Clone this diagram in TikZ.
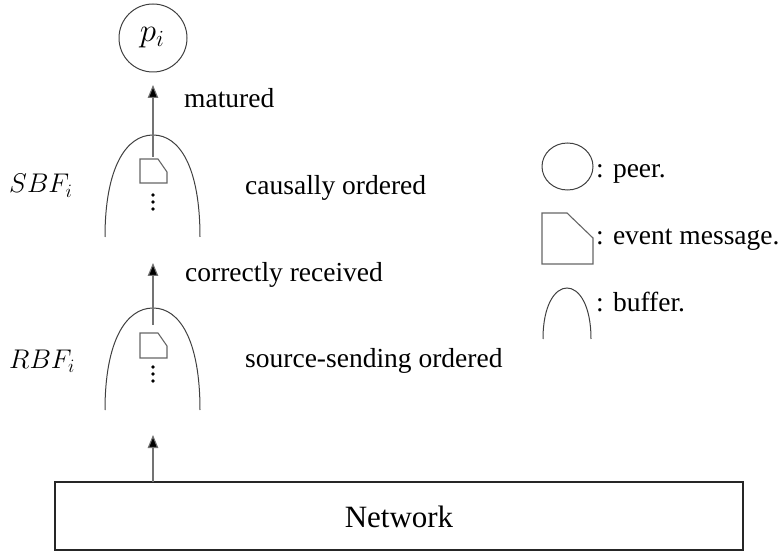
\documentclass[tikz,border=0pt]{standalone}
\usepackage{fix-cm}
\usepackage{fontspec}
\setmainfont{Liberation Serif}
\usetikzlibrary{arrows.meta,shapes.geometric}
\begin{document}
\begin{tikzpicture}[x=1pt,y=-1pt,
  txt/.style={font=\fontsize{27.5}{32}\selectfont, inner sep=0pt},
  mathlbl/.style={font=\fontsize{27}{31}\selectfont, inner sep=0pt},
  bufline/.style={draw=black!75, line width=1pt},
  msgshape/.style={draw=black!60, line width=1.1pt, line join=miter},
  flow/.style={draw=black!55, line width=1.1pt, -{Triangle[length=13pt,width=10.5pt,fill=black]}},
  dotmark/.style={circle, fill=black, inner sep=0pt, minimum size=3.6pt}
]
\useasboundingbox (0,0) rectangle (782,553);

% peer
\node[circle, draw=black!75, line width=1pt, minimum size=68pt, inner sep=0pt] (peer) at (153,38) {};
\node[font=\fontsize{33}{38}\selectfont, inner sep=0pt] (peerlbl) at (152,38) {$p_i$};

% send buffer
\coordinate (sbfL) at (105,237);
\coordinate (sbfT) at (153,135);
\coordinate (sbfR) at (200,237);
\draw[bufline] (sbfL) .. controls (105,168) and (126,135) .. (sbfT)
               .. controls (180,135) and (200,168) .. (sbfR);
\draw[msgshape] (140,159) -- (158,159) -- (167,172) -- (167,183) -- (140,183) -- cycle;
\node[dotmark] (sd1) at (153,195) {};
\node[dotmark] (sd2) at (153,202) {};
\node[dotmark] (sd3) at (153,209) {};

% receive buffer
\coordinate (rbfL) at (105,410);
\coordinate (rbfT) at (153,308);
\coordinate (rbfR) at (200,410);
\draw[bufline] (rbfL) .. controls (105,341) and (126,308) .. (rbfT)
               .. controls (180,308) and (200,341) .. (rbfR);
\draw[msgshape] (140,333) -- (158,333) -- (167,346) -- (167,358) -- (140,358) -- cycle;
\node[dotmark] (rd1) at (153,367) {};
\node[dotmark] (rd2) at (153,374) {};
\node[dotmark] (rd3) at (153,381) {};

% network
\node[draw=black!85, line width=1.6pt, minimum width=688pt, minimum height=68pt, inner sep=0pt] (net) at (399,516) {};
\node[font=\fontsize{31}{36}\selectfont, inner sep=0pt, anchor=base] (netlbl) at (399,527) {Network};

% flows
\coordinate (sbfOut) at (153,157);
\coordinate (peerIn) at (153,85);
\coordinate (rbfOut) at (153,325);
\coordinate (sbfIn) at (153,263);
\coordinate (netOut) at (153,482);
\coordinate (rbfIn) at (153,435);
\draw[flow] (sbfOut) -- (peerIn);
\draw[flow] (rbfOut) -- (sbfIn);
\draw[flow] (netOut) -- (rbfIn);

% labels
\node[txt, anchor=base west] (lmat) at (184,108) {matured};
\node[txt, anchor=base west] (lcaus) at (245,195) {causally ordered};
\node[txt, anchor=base west] (lcorr) at (185,282) {correctly received};
\node[txt, anchor=base west] (lsrc) at (245,367) {source-sending ordered};
\node[mathlbl, anchor=base west] (lsbf) at (9,193) {$SBF_i$};
\node[mathlbl, anchor=base west] (lrbf) at (9,368) {$RBF_i$};

% legend
\node[ellipse, draw=black!75, line width=1pt, minimum width=51pt, minimum height=47pt, inner sep=0pt] (legpeer) at (567.5,166.5) {};
\draw[msgshape] (542,213) -- (567,213) -- (593,238) -- (593,264) -- (542,264) -- cycle;
\coordinate (lbL) at (543,339);
\coordinate (lbT) at (567,288);
\coordinate (lbR) at (591,339);
\draw[bufline] (lbL) .. controls (543,305) and (555,288) .. (lbT)
               .. controls (579,288) and (591,305) .. (lbR);
\node[txt, anchor=base west] (lgpeer) at (596,178) {: peer.};
\node[txt, anchor=base west] (lgmsg) at (596,245) {: event message.};
\node[txt, anchor=base west] (lgbuf) at (596,312) {: buffer.};
\end{tikzpicture}
\end{document}
